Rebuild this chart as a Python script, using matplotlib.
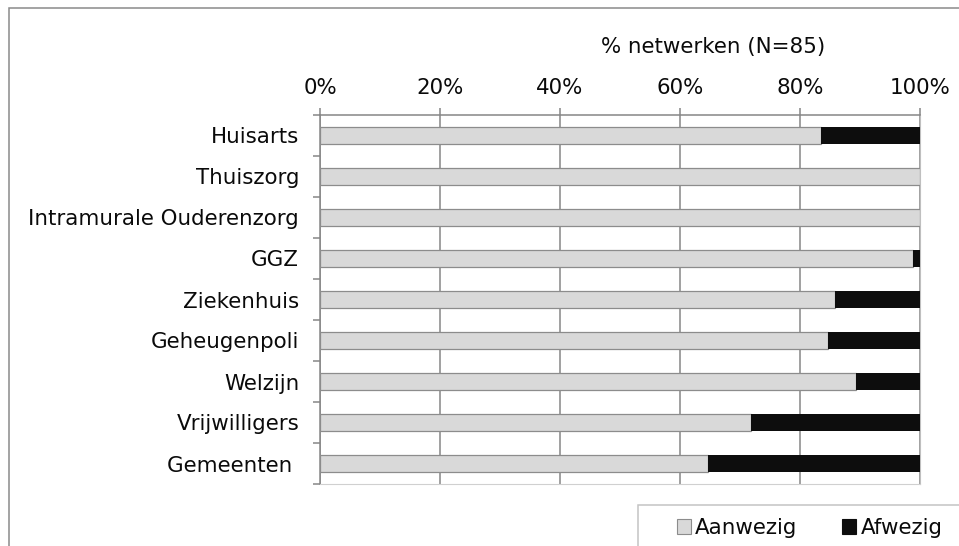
import matplotlib
matplotlib.use("Agg")
import matplotlib.pyplot as plt
import numpy as np
from matplotlib.patches import Patch, Rectangle

# data (% of 85 netwerken)
categorieen = ['Huisarts', 'Thuiszorg', 'Intramurale Ouderenzorg', 'GGZ', 'Ziekenhuis',
               'Geheugenpoli', 'Welzijn', 'Vrijwilligers', 'Gemeenten ']
aanwezig = [83.5, 100, 100, 98.8, 85.9, 84.7, 89.4, 71.8, 64.7]
afwezig = [16.5, 0, 0, 1.2, 14.1, 15.3, 10.6, 28.2, 35.3]
xticks = [0, 20, 40, 60, 80, 100]
xticklabels = ['0%', '20%', '40%', '60%', '80%', '100%']

plt.rcParams['font.family'] = ['DejaVu Sans']
plt.rcParams['font.size'] = 15.4

W, H = 959, 546
fig = plt.figure(figsize=(W / 100, H / 100), dpi=100)
ax = fig.add_axes([320 / W, 1 - 484 / H, 600 / W, 369 / H])

grijs = '#868686'
licht = '#d9d9d9'
zwart = '#0d0d0d'
tekst = '#0a0a0a'

y = np.arange(len(categorieen))
ax.barh(y, aanwezig, height=0.4, color=licht, edgecolor='#8c8c8c', linewidth=0.9, zorder=3)
ax.barh(y, afwezig, left=aanwezig, height=0.4, color=zwart, linewidth=0, zorder=3)

ax.set_xlim(0, 100)
ax.set_ylim(len(categorieen) - 0.5, -0.5)

# x-as bovenaan
ax.xaxis.tick_top()
ax.set_xticks(xticks)
ax.set_xticklabels(xticklabels, color=tekst)
ax.tick_params(axis='x', direction='out', length=5, width=1.1, color=grijs, pad=7)
ax.set_xlabel('% netwerken (N=85)', color=tekst)
ax.xaxis.set_label_position('top')
ax.xaxis.set_label_coords((713 - 320) / 600, (484 - 47) / 369)
ax.xaxis.label.set_va('center')

# y-as: labels op de balken, streepjes tussen de categorieen
ax.set_yticks(y)
ax.set_yticklabels(categorieen, color=tekst)
ax.tick_params(axis='y', which='major', length=0, pad=15)
ax.set_yticks(np.arange(len(categorieen) + 1) - 0.5, minor=True)
ax.tick_params(axis='y', which='minor', direction='out', length=5, width=1.1, color=grijs)

ax.grid(axis='x', color=grijs, linewidth=1.1, zorder=0)
ax.set_axisbelow(True)
ax.spines['left'].set_color(grijs)
ax.spines['left'].set_linewidth(1.1)
ax.spines['top'].set_color(grijs)
ax.spines['top'].set_linewidth(1.1)
ax.spines['right'].set_color('#bfbfbf')
ax.spines['bottom'].set_color('#d0d0d0')

# rand rond de figuur en rond de legenda (lopen buiten beeld door)
fig.add_artist(Rectangle((9 / W, -0.2), 1.5, 1 - 8 / H + 0.2, transform=fig.transFigure,
                         fill=False, edgecolor='#8a8a8a', linewidth=1.1))
fig.add_artist(Rectangle((638 / W, -0.2), 0.6, 1 - 505 / H + 0.2, transform=fig.transFigure,
                         fill=False, edgecolor='#c4c4c4', linewidth=1.1))

handles = [Patch(facecolor=licht, edgecolor='#8c8c8c', linewidth=0.8),
           Patch(facecolor=zwart, edgecolor=zwart, linewidth=0.8)]
fig.legend(handles, ['Aanwezig', 'Afwezig'], loc='center left', bbox_to_anchor=(677 / W, 1 - 528 / H),
           ncol=2, frameon=False, borderpad=0, borderaxespad=0, handlelength=0.65, handleheight=0.65,
           handletextpad=0.2, columnspacing=2.1, labelcolor=tekst)

fig.savefig('out.png', dpi=100)
